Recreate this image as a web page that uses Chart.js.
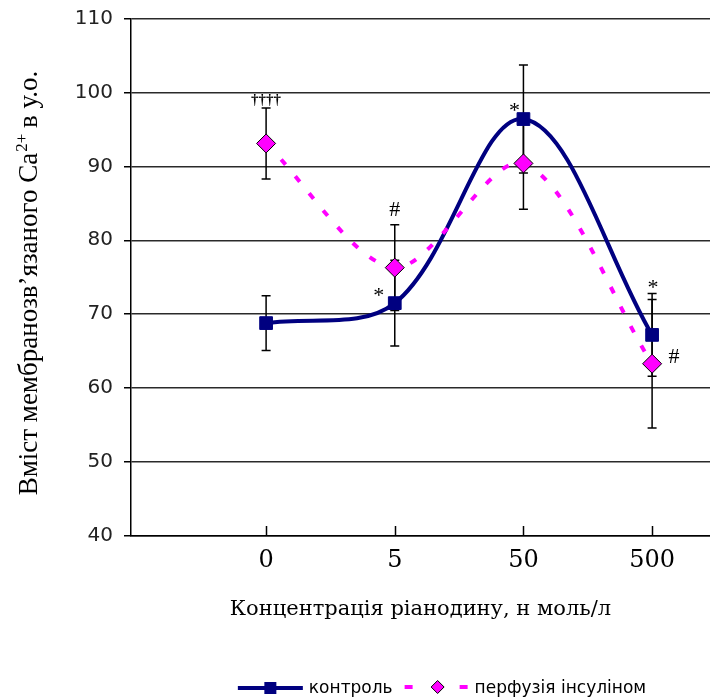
<!DOCTYPE html>
<html><head><meta charset="utf-8">
<script src="https://cdn.jsdelivr.net/npm/chart.js@4.4.0/dist/chart.umd.min.js"></script>
<style>html,body{margin:0;padding:0;background:#fff;}#wrap{width:710px;height:700px;}</style>
</head><body><div id="wrap"><canvas id="c" width="710" height="700"></canvas></div>
<script>
// ---- data ----
const categories = ['0', '5', '50', '500'];
const controlValues = [68.8, 71.5, 96.4, 67.2];
const controlErrors = [3.7, 5.8, 7.3, 5.6];
const insulinValues = [93.1, 76.3, 90.4, 63.3];
const insulinErrors = [4.8, 5.8, 6.2, 8.7];
const yTicks = [40, 50, 60, 70, 80, 90, 100, 110];
const seriesNames = ['контроль', 'перфузія інсуліном'];
const xTitle = 'Концентрація ріанодину, н моль/л';
const yTitleParts = ['Вміст мембранозв\u2019язаного Ca', '2+', ' в у.о.'];
const markTexts = ['\u2020\u2020\u2020\u2020', '*', '#', '*', '*', '#'];
const markSeries = [1, 0, 1, 0, 0, 1];
const markIndex = [0, 1, 1, 2, 3, 3];

// ---- styling / placement of marks (pixels, not data) ----
const markStyle = [
  {anchor: 'errTop', dx: 0, dy: -8, font: 'bold 15px "Liberation Serif"'},
  {anchor: 'point', dx: -16, dy: -11, font: '22px "Liberation Serif"'},
  {anchor: 'errTop', dx: 0, dy: -16, font: '22px "Liberation Serif"'},
  {anchor: 'point', dx: -9, dy: -12, font: '22px "Liberation Serif"'},
  {anchor: 'errTop', dx: 1, dy: -10, font: '22px "Liberation Serif"'},
  {anchor: 'point', dx: 22, dy: -8, font: '22px "Liberation Serif"'}
];

const NAVY = '#000080', PINK = '#FF00FF';
const errorsBySeries = [controlErrors, insulinErrors];
const valuesBySeries = [controlValues, insulinValues];

const toPts = arr => arr.map((v, i) => ({x: i, y: v}));

const errorBarPlugin = {
  id: 'errorBars',
  beforeDatasetsDraw(chart) {
    const ctx = chart.ctx, xs = chart.scales.x, ys = chart.scales.y;
    ctx.save();
    ctx.strokeStyle = '#000';
    ctx.lineWidth = 1.5;
    [1, 0].forEach(s => {
      valuesBySeries[s].forEach((v, i) => {
        const e = errorsBySeries[s][i];
        const px = xs.getPixelForValue(i);
        const yt = ys.getPixelForValue(v + e), yb = ys.getPixelForValue(v - e);
        ctx.beginPath();
        ctx.moveTo(px, yt); ctx.lineTo(px, yb);
        ctx.moveTo(px - 4.5, yt); ctx.lineTo(px + 4.5, yt);
        ctx.moveTo(px - 4.5, yb); ctx.lineTo(px + 4.5, yb);
        ctx.stroke();
      });
    });
    ctx.restore();
  }
};

function drawSquare(ctx, x, y, half, color) {
  ctx.fillStyle = color;
  ctx.fillRect(x - half, y - half, half * 2, half * 2);
}
function drawDiamond(ctx, x, y, r) {
  ctx.beginPath();
  ctx.moveTo(x, y - r); ctx.lineTo(x + r, y); ctx.lineTo(x, y + r); ctx.lineTo(x - r, y); ctx.closePath();
  ctx.fillStyle = PINK; ctx.fill();
  ctx.strokeStyle = '#000'; ctx.lineWidth = 1; ctx.stroke();
}

const decorPlugin = {
  id: 'decor',
  afterDraw(chart) {
    const ctx = chart.ctx, xs = chart.scales.x, ys = chart.scales.y, area = chart.chartArea;
    ctx.save();
    // inward tick marks on x axis
    ctx.strokeStyle = '#000'; ctx.lineWidth = 1.5;
    categories.forEach((c, i) => {
      const px = Math.round(xs.getPixelForValue(i)) + 0.5;
      ctx.beginPath(); ctx.moveTo(px, area.bottom); ctx.lineTo(px, area.bottom - 10); ctx.stroke();
    });
    // significance marks
    ctx.fillStyle = '#000'; ctx.textAlign = 'center'; ctx.textBaseline = 'alphabetic';
    markTexts.forEach((t, k) => {
      const st = markStyle[k], s = markSeries[k], i = markIndex[k];
      const v = valuesBySeries[s][i];
      const yv = st.anchor === 'errTop' ? v + errorsBySeries[s][i] : v;
      const cx = xs.getPixelForValue(i) + st.dx;
      const cy = ys.getPixelForValue(yv) + st.dy;
      ctx.font = st.font;
      const m = ctx.measureText(t);
      ctx.fillText(t, cx, cy + (m.actualBoundingBoxAscent - m.actualBoundingBoxDescent) / 2);
    });
    // y title (rotated with superscript)
    const f1 = '27px "Liberation Serif"', f2 = '17px "Liberation Serif"';
    ctx.font = f1; const w1 = ctx.measureText(yTitleParts[0]).width, w3 = ctx.measureText(yTitleParts[2]).width;
    ctx.font = f2; const w2 = ctx.measureText(yTitleParts[1]).width;
    const total = w1 + w2 + w3;
    ctx.translate(37, 283);
    ctx.rotate(-Math.PI / 2);
    ctx.textAlign = 'left'; ctx.textBaseline = 'alphabetic'; ctx.fillStyle = '#000';
    let x0 = -total / 2;
    ctx.font = f1; ctx.fillText(yTitleParts[0], x0, 0);
    ctx.font = f2; ctx.fillText(yTitleParts[1], x0 + w1 + 1, -10);
    ctx.font = f1; ctx.fillText(yTitleParts[2], x0 + w1 + w2, 0);
    ctx.setTransform(1, 0, 0, 1, 0, 0);
    // legend
    const ly = 688;
    ctx.font = '17px "DejaVu Sans"'; ctx.textBaseline = 'middle'; ctx.textAlign = 'left';
    const t1 = ctx.measureText(seriesNames[0]).width, t2 = ctx.measureText(seriesNames[1]).width;
    const sym1 = 65, sym2 = 63, g1 = 6, g2 = 12, g3 = 7;
    const tw = sym1 + g1 + t1 + g2 + sym2 + g3 + t2;
    let lx = 442 - tw / 2;
    ctx.strokeStyle = NAVY; ctx.lineWidth = 4; ctx.setLineDash([]);
    ctx.beginPath(); ctx.moveTo(lx, ly); ctx.lineTo(lx + sym1, ly); ctx.stroke();
    drawSquare(ctx, lx + sym1 / 2, ly, 6, NAVY);
    lx += sym1 + g1;
    ctx.fillStyle = '#000'; ctx.fillText(seriesNames[0], lx, ly + 1);
    lx += t1 + g2;
    ctx.strokeStyle = PINK; ctx.lineWidth = 4;
    ctx.beginPath(); ctx.moveTo(lx, ly - 1); ctx.lineTo(lx + 8, ly - 1); ctx.stroke();
    ctx.beginPath(); ctx.moveTo(lx + sym2 - 8, ly - 1); ctx.lineTo(lx + sym2, ly - 1); ctx.stroke();
    drawDiamond(ctx, lx + 33, ly - 1, 6.5);
    lx += sym2 + g3;
    ctx.fillStyle = '#000'; ctx.fillText(seriesNames[1], lx, ly + 1);
    ctx.restore();
  }
};

new Chart(document.getElementById('c'), {
  type: 'line',
  data: {
    datasets: [
      {
        label: seriesNames[0], data: toPts(controlValues), order: 1,
        borderColor: NAVY, borderWidth: 4, tension: 0.35, fill: false,
        pointStyle: 'rect', pointRadius: 9, pointBackgroundColor: NAVY, pointBorderColor: NAVY, pointBorderWidth: 1
      },
      {
        label: seriesNames[1], data: toPts(insulinValues), order: 0,
        borderColor: PINK, borderWidth: 4, borderDash: [7, 15], tension: 0.3, fill: false,
        pointStyle: 'rectRot', pointRadius: 9.5, pointBackgroundColor: PINK, pointBorderColor: '#000', pointBorderWidth: 1
      }
    ]
  },
  options: {
    responsive: false, animation: false,
    layout: {autoPadding: false, padding: {top: 18.5, left: 0, right: 0, bottom: 0}},
    plugins: {legend: {display: false}, tooltip: {enabled: false}},
    scales: {
      x: {
        type: 'linear', min: -1.05, max: 3.45,
        afterBuildTicks: s => { s.ticks = categories.map((c, i) => ({value: i})); },
        afterFit: s => { s.height = 164; s.paddingRight = 0; s.paddingLeft = 0; },
        ticks: {callback: v => categories[v], color: '#000', padding: 10, font: {family: 'DejaVu Serif', size: 24}, maxRotation: 0, autoSkip: false},
        grid: {drawOnChartArea: false, drawTicks: false},
        border: {display: true, color: '#000', width: 1.5},
        title: {display: true, text: xTitle, color: '#000', font: {family: 'DejaVu Serif', size: 21}, padding: {top: 0, bottom: 78}}
      },
      y: {
        min: yTicks[0], max: yTicks[yTicks.length - 1],
        afterBuildTicks: s => { s.ticks = yTicks.map(v => ({value: v})); },
        afterFit: s => { s.width = 131; s.paddingTop = 0; s.paddingBottom = 0; },
        ticks: {color: '#222', padding: 11, font: {family: 'DejaVu Sans', size: 20}},
        grid: {color: '#2a2a2a', lineWidth: 1.5, tickLength: 7, tickColor: '#000'},
        border: {display: true, color: '#000', width: 1.5}
      }
    }
  },
  plugins: [errorBarPlugin, decorPlugin]
});
</script>
</body></html>
